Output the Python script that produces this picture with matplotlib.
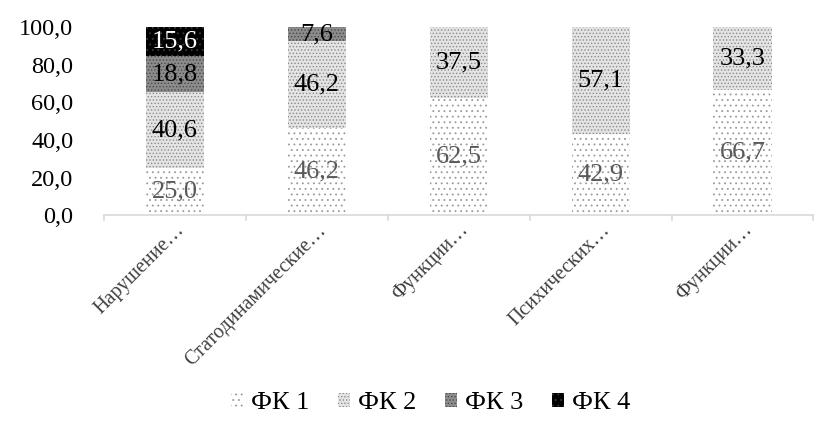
import matplotlib
matplotlib.use("Agg")
import matplotlib.pyplot as plt
import numpy as np

plt.rcParams['font.family'] = ['Liberation Serif', 'DejaVu Serif']
plt.rcParams['hatch.linewidth'] = 0.6

categories = ["Нарушение…", "Статодинамические…", "Функции…", "Психических…", "Функции…"]
series_names = ["ФК 1", "ФК 2", "ФК 3", "ФК 4"]
fk1 = [25.0, 46.2, 62.5, 42.9, 66.7]
fk2 = [40.6, 46.2, 37.5, 57.1, 33.3]
fk3 = [18.8, 7.6, 0.0, 0.0, 0.0]
fk4 = [15.6, 0.0, 0.0, 0.0, 0.0]
yticks = [0, 20, 40, 60, 80, 100]

# fill, hatch, hatch colour, label colour per series
styles = [
    ("white", "...", "#9a9a9a", "#595959"),
    ("#e4e4e4", ".....", "#8a8a8a", "black"),
    ("#8c8c8c", ".....", "#4a4a4a", "black"),
    ("black", "...", "#3a3a3a", "white"),
]

fig = plt.figure(figsize=(8.25, 4.28), dpi=100)
ax = fig.add_axes([0.126, 0.497, 0.86, 0.44])

x = np.arange(len(categories))
bottom = np.zeros(len(categories))
handles = []
for name, vals, (fc, hatch, hc, tc) in zip(series_names, [fk1, fk2, fk3, fk4], styles):
    vals = np.array(vals)
    bars = ax.bar(x, vals, 0.41, bottom=bottom, color=fc, hatch=hatch,
                  edgecolor=hc, linewidth=0, label=name)
    handles.append(bars)
    for xi, b, v in zip(x, bottom, vals):
        if v > 0:
            ax.text(xi, b + v / 2, f"{v:.1f}".replace(".", ","), ha="center",
                    va="center", fontsize=19, color=tc)
    bottom += vals

ax.set_xlim(-0.5, len(categories) - 0.5)
ax.set_ylim(0, 100)
ax.set_yticks(yticks)
ax.set_yticklabels([f"{t:.1f}".replace(".", ",") for t in yticks], fontsize=17.5)
ax.set_xticks(x)
ax.set_xticklabels(categories, rotation=45, ha="right", va="top",
                   rotation_mode="anchor", fontsize=14.5, color="#404040")
ax.tick_params(axis="y", length=0, pad=22)
ax.tick_params(axis="x", length=0, pad=4)
for s in ["top", "right", "left"]:
    ax.spines[s].set_visible(False)
ax.spines["bottom"].set_color("#d9d9d9")
ax.spines["bottom"].set_linewidth(1.2)

# category separator ticks
for b in np.arange(-0.5, len(categories) + 0.5, 1):
    ax.plot([b, b], [0, -2.5], color="#d9d9d9", lw=1.2, clip_on=False)

fig.legend(handles=handles, labels=series_names, loc="center",
           bbox_to_anchor=(0.522, 0.058), ncol=4, frameon=False, fontsize=19,
           handlelength=0.45, handleheight=0.45, handletextpad=0.3,
           columnspacing=1.1)

fig.savefig("out.png", dpi=100)
